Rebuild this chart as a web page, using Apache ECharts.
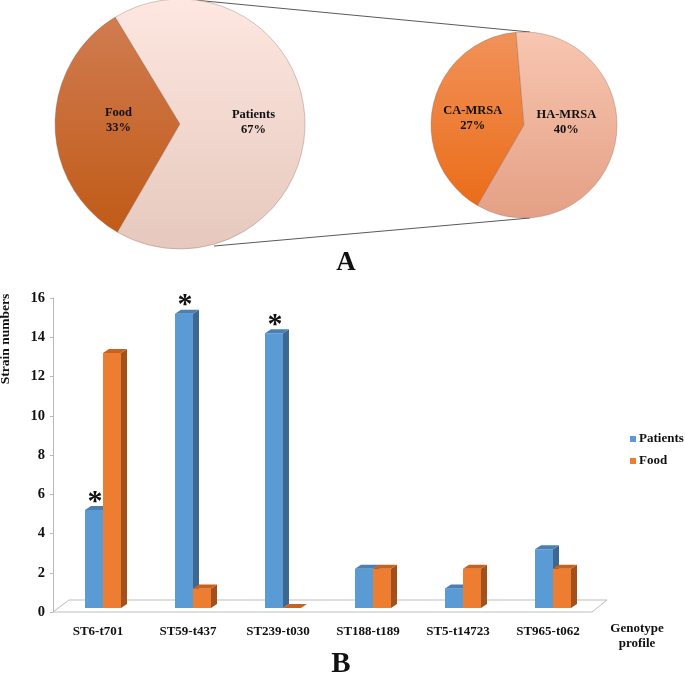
<!DOCTYPE html>
<html>
<head>
<meta charset="utf-8">
<script src="https://cdn.jsdelivr.net/npm/echarts/dist/echarts.min.js"></script>
<style>
html,body{margin:0;padding:0;background:#fff;}
#chart{width:685px;height:680px;}
</style>
</head>
<body>
<div id="chart"></div>
<script>
// ---------- DATA ----------
const sourceNames = ['Food', 'Patients'];
const sourceShares = [33, 67];
const patientTypeNames = ['CA-MRSA', 'HA-MRSA'];
const patientTypeShares = [27, 40];

const categories = ['ST6-t701', 'ST59-t437', 'ST239-t030', 'ST188-t189', 'ST5-t14723', 'ST965-t062'];
const patients = [5, 15, 14, 2, 1, 3];
const food = [13, 1, 0, 2, 2, 2];
const significant = [true, true, true, false, false, false];
const yMin = 0, yMax = 16, yStep = 2;

// ---------- STYLE / LAYOUT ----------
const FONT = 'Liberation Serif';
const leftPie = {cx: 180, cy: 124, r: 125};
const rightPie = {cx: 524, cy: 125, r: 93};
const g = (top, bottom, y0, y1) => ({type: 'linear', x: 0, y: y0, x2: 0, y2: y1, global: true,
  colorStops: [{offset: 0, color: top}, {offset: 1, color: bottom}]});
const leftColors = [g('#d27e55', '#bf5812', 0, 250), g('#fde7e0', '#e6c8bd', 0, 250)];
const rightColors = [g('#f1925a', '#ea6a14', 32, 218), g('#f8c6b1', '#e4a085', 32, 218)];
const leftLabelShift = [[4, -4], [8, -1.5]];
const rightLabelShift = [[-3, 4], [-6, -13]];

const barGrid = {left: 58, top: 294, width: 540, height: 314};
const axisGrid = {left: 53, top: 298, width: 540, height: 314};
const depth = [6, -4];
const frontColors = ['#5b9bd5', '#ed7d31'];
const sideColors = ['#3d6892', '#a2511c'];
const topColors = ['#4a7fb4', '#c8621f'];

function pieData(names, values, colors) {
  return names.map((n, i) => ({name: n, value: values[i], itemStyle: {color: colors[i]}}));
}

function renderBar(params, api) {
  const s = params.seriesIndex - 2;
  const i = api.value(0), v = api.value(1);
  const base = api.coord([i, 0]);
  const top = api.coord([i, v]);
  const bw = api.size([1, 0])[0] * 0.2;
  const x0 = s === 0 ? base[0] - bw : base[0];
  const x1 = x0 + bw;
  const yb = base[1], yt = top[1];
  const [dx, dy] = depth;
  const children = [
    {type: 'polygon', shape: {points: [[x1, yt], [x1 + dx, yt + dy], [x1 + dx, yb + dy], [x1, yb]]},
      style: {fill: sideColors[s]}},
    {type: 'rect', shape: {x: x0, y: yt, width: bw, height: yb - yt}, style: {fill: frontColors[s]}},
    {type: 'polygon', shape: {points: [[x0, yt], [x0 + dx, yt + dy], [x1 + dx, yt + dy], [x1, yt]]},
      style: {fill: topColors[s]}}
  ];
  if (s === 0 && significant[i]) {
    children.push({type: 'text', x: (x0 + x1) / 2 + 1, y: yt + 7,
      style: {text: '*', font: 'bold 30px "' + FONT + '"', fill: '#111', align: 'center', verticalAlign: 'bottom'}});
  }
  return {type: 'group', children};
}

const floor = [
  [axisGrid.left, axisGrid.top + axisGrid.height],
  [axisGrid.left + 16, axisGrid.top + axisGrid.height - 12],
  [axisGrid.left + axisGrid.width + 14, axisGrid.top + axisGrid.height - 12],
  [axisGrid.left + axisGrid.width - 1, axisGrid.top + axisGrid.height]
];

const pieLabel = {
  show: true, position: 'inner', formatter: '{b}\n{c}%',
  color: '#111', fontFamily: FONT, fontWeight: 'bold', fontSize: 12.5, lineHeight: 15
};
const pieBorder = {borderColor: 'rgba(140,100,85,0.45)', borderWidth: 0.8};

const option = {
  animation: false,
  backgroundColor: '#fff',
  grid: [
    Object.assign({outerBoundsMode: 'none', containLabel: false}, barGrid),
    Object.assign({outerBoundsMode: 'none', containLabel: false}, axisGrid)
  ],
  xAxis: [
    {gridIndex: 0, type: 'category', data: categories, show: false},
    {gridIndex: 1, type: 'category', data: categories, axisLine: {show: false}, axisTick: {show: false},
      axisLabel: {margin: 13, color: '#111', fontFamily: FONT, fontWeight: 'bold', fontSize: 13, interval: 0}}
  ],
  yAxis: [
    {gridIndex: 0, type: 'value', min: yMin, max: yMax, interval: yStep, show: false},
    {gridIndex: 1, type: 'value', min: yMin, max: yMax, interval: yStep,
      axisLine: {show: true, lineStyle: {color: '#b8b8b8', width: 1}},
      axisTick: {show: true, length: 3, lineStyle: {color: '#b8b8b8'}},
      splitLine: {show: false},
      axisLabel: {margin: 8, color: '#111', fontFamily: FONT, fontWeight: 'bold', fontSize: 14.5}}
  ],
  legend: {
    data: ['Patients', 'Food'], orient: 'vertical', left: 625, top: 427,
    icon: 'rect', itemWidth: 6, itemHeight: 6, itemGap: 8,
    textStyle: {color: '#111', fontFamily: FONT, fontWeight: 'bold', fontSize: 13, lineHeight: 14, padding: [0, 0, 0, -2]}
  },
  series: [
    {type: 'pie', center: [leftPie.cx, leftPie.cy], radius: leftPie.r, startAngle: 240, clockwise: true,
      label: pieLabel, labelLine: {show: false}, itemStyle: pieBorder, silent: true,
      labelLayout: p => ({dx: leftLabelShift[p.dataIndex][0], dy: leftLabelShift[p.dataIndex][1]}),
      data: pieData(sourceNames, sourceShares, leftColors)},
    {type: 'pie', center: [rightPie.cx, rightPie.cy], radius: rightPie.r, startAngle: 240, clockwise: true,
      label: pieLabel, labelLine: {show: false}, itemStyle: pieBorder, silent: true,
      labelLayout: p => ({dx: rightLabelShift[p.dataIndex][0], dy: rightLabelShift[p.dataIndex][1]}),
      data: pieData(patientTypeNames, patientTypeShares, rightColors)},
    {name: 'Patients', type: 'custom', xAxisIndex: 0, yAxisIndex: 0, z: 5,
      itemStyle: {color: frontColors[0]}, renderItem: renderBar,
      encode: {x: 0, y: 1}, data: patients.map((v, i) => [i, v])},
    {name: 'Food', type: 'custom', xAxisIndex: 0, yAxisIndex: 0, z: 5,
      itemStyle: {color: frontColors[1]}, renderItem: renderBar,
      encode: {x: 0, y: 1}, data: food.map((v, i) => [i, v])}
  ],
  graphic: [
    {type: 'line', z: 1, shape: {x1: leftPie.cx + 14, y1: leftPie.cy - leftPie.r + 1, x2: rightPie.cx + 6, y2: rightPie.cy - rightPie.r},
      style: {stroke: '#5a5a5a', lineWidth: 1}},
    {type: 'line', z: 1, shape: {x1: leftPie.cx + 34, y1: leftPie.cy + leftPie.r - 3, x2: rightPie.cx + 6, y2: rightPie.cy + rightPie.r},
      style: {stroke: '#5a5a5a', lineWidth: 1}},
    {type: 'polygon', z: 0, shape: {points: floor}, style: {fill: '#fff', stroke: '#bdbdbd', lineWidth: 1}},
    {type: 'text', x: 346, y: 263, style: {text: 'A', font: 'bold 27px "' + FONT + '"', fill: '#111', align: 'center', verticalAlign: 'middle'}},
    {type: 'text', x: 341, y: 665, style: {text: 'B', font: 'bold 29px "' + FONT + '"', fill: '#111', align: 'center', verticalAlign: 'middle'}},
    {type: 'text', x: 6, y: 339, rotation: Math.PI / 2,
      style: {text: 'Strain numbers', font: 'bold 13.5px "' + FONT + '"', fill: '#111', align: 'center', verticalAlign: 'middle'}},
    {type: 'text', x: 637, y: 636,
      style: {text: 'Genotype\nprofile', font: 'bold 13px "' + FONT + '"', lineHeight: 15, fill: '#111', align: 'center', verticalAlign: 'middle'}}
  ]
};

const chart = echarts.init(document.getElementById('chart'), null, {renderer: 'canvas'});
chart.setOption(option);
</script>
</body>
</html>
